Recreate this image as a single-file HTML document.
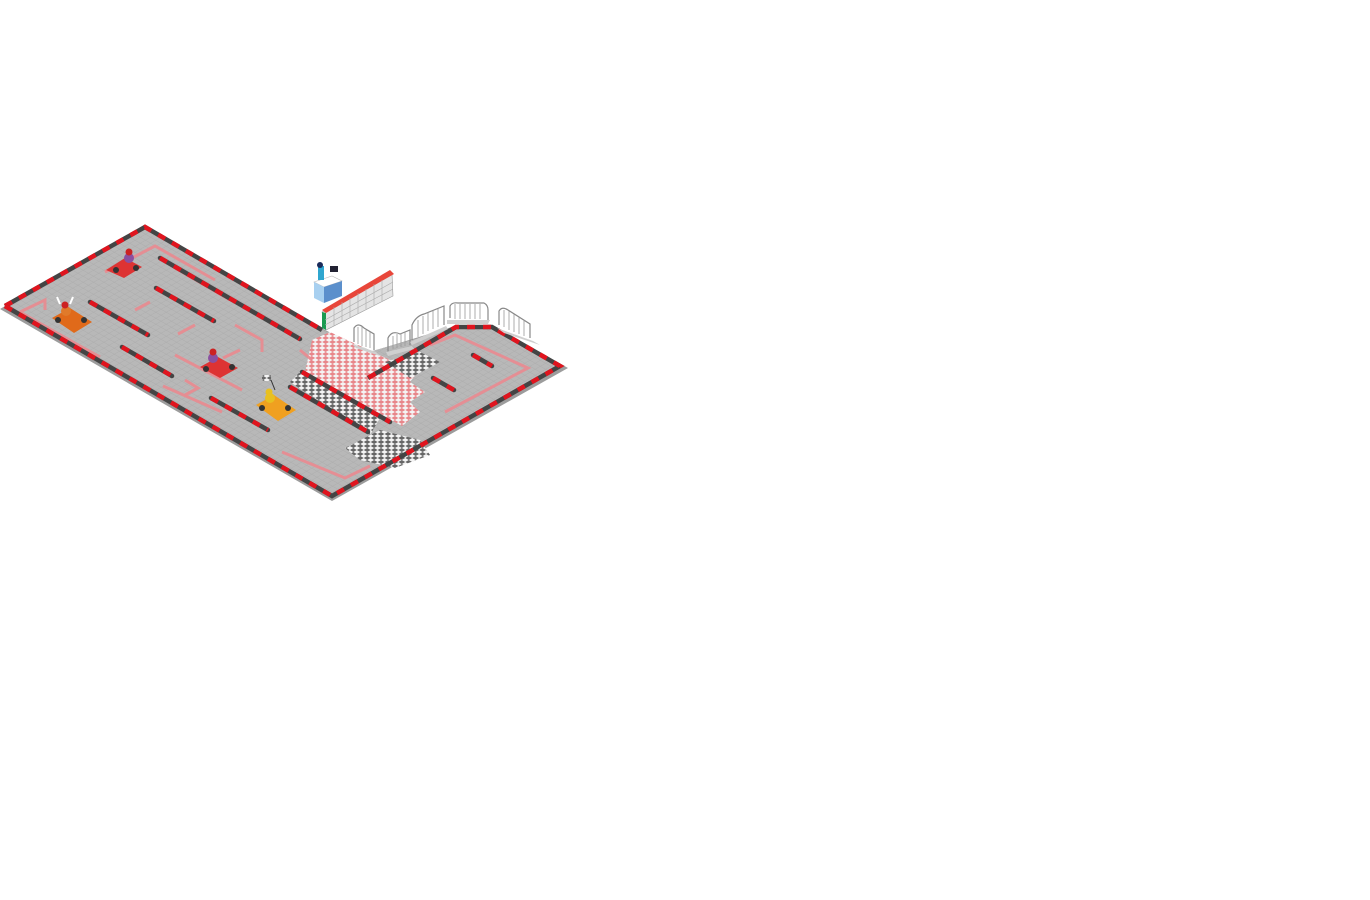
<!DOCTYPE html>
<html><head><meta charset="utf-8"><style>html,body{margin:0;padding:0;background:#fff;width:1370px;height:900px;overflow:hidden}</style></head>
<body>
<svg width="1370" height="900" viewBox="0 0 1370 900" xmlns="http://www.w3.org/2000/svg">
<defs>
<pattern id="grid" width="6" height="6" patternUnits="userSpaceOnUse" patternTransform="matrix(0.866 0.5 -0.866 0.5 0 0)"><rect width="6" height="6" fill="#b8b8b8"/><path d="M0 0H6M0 0V6" stroke="#a8a8a8" stroke-width="0.7"/></pattern>
<pattern id="pk" width="8" height="8" patternUnits="userSpaceOnUse" patternTransform="matrix(0.866 0.5 -0.866 0.5 0 0)"><rect width="8" height="8" fill="#f4f4f4"/><rect width="4" height="4" fill="#e8868a"/><rect x="4" y="4" width="4" height="4" fill="#e8868a"/></pattern>
<pattern id="gk" width="8" height="8" patternUnits="userSpaceOnUse" patternTransform="matrix(0.866 0.5 -0.866 0.5 0 0)"><rect width="8" height="8" fill="#f4f4f4"/><rect width="4" height="4" fill="#666"/><rect x="4" y="4" width="4" height="4" fill="#666"/></pattern>
</defs>
<polygon points="0,309 145,225 325,330 370,352 455,326 493,326 568,368 332,501" fill="#9c9c9c"/>
<polygon points="4,306 145,227 325,331 372,351 455,328 492,328 562,366 332,496" fill="url(#grid)"/>
<polygon points="312,340 330,332 390,360 418,372 410,382 425,392 410,402 420,412 402,426 340,392 305,372" fill="url(#pk)"/>
<polygon points="290,382 300,372 380,418 370,435" fill="url(#gk)"/>
<polygon points="385,362 420,352 440,362 410,378" fill="url(#gk)"/>
<polygon points="345,448 380,430 420,440 430,455 395,468 360,460" fill="url(#gk)"/>
<g stroke="#ea8a90" stroke-width="3" fill="none" opacity="0.9">
<polyline points="105,272 155,246 215,280"/>
<polyline points="175,268 230,300"/>
<polyline points="45,310 45,300 20,312 80,346 100,357"/>
<polyline points="135,310 150,302"/>
<polyline points="178,334 195,325"/>
<polyline points="235,325 262,340 262,352"/>
<polyline points="175,355 242,390"/>
<polyline points="223,358 240,350"/>
<polyline points="163,386 222,412"/>
<polyline points="185,395 198,388 185,380"/>
<polyline points="282,452 345,478 370,466"/>
<polyline points="445,412 528,368 455,335 430,345"/>
<polyline points="300,350 312,360"/>
</g>
<g fill="none">
<polyline points="5,306 145,227 322,330" stroke="#444" stroke-width="4.5"/>
<polyline points="5,306 145,227 322,330" stroke="#e0141e" stroke-width="4.5" stroke-dasharray="8 8"/>
<polyline points="5,306 332,496 560,366 492,327 456,327 368,378" stroke="#444" stroke-width="4.5"/>
<polyline points="5,306 332,496 560,366 492,327 456,327 368,378" stroke="#e0141e" stroke-width="4.5" stroke-dasharray="8 8"/>
</g>
<g fill="none" stroke-width="4.5" stroke-linecap="round">
<g stroke="#444">
<line x1="160" y1="258" x2="300" y2="339"/><line x1="156" y1="288" x2="214" y2="321"/><line x1="90" y1="302" x2="148" y2="335"/><line x1="122" y1="347" x2="172" y2="376"/><line x1="211" y1="398" x2="268" y2="430"/><line x1="302" y1="372" x2="390" y2="422"/><line x1="290" y1="387" x2="368" y2="432"/><line x1="433" y1="378" x2="454" y2="390"/><line x1="473" y1="355" x2="492" y2="366"/>
</g>
<g stroke="#e0141e" stroke-dasharray="8 8" stroke-linecap="butt">
<line x1="160" y1="258" x2="300" y2="339"/><line x1="156" y1="288" x2="214" y2="321"/><line x1="90" y1="302" x2="148" y2="335"/><line x1="122" y1="347" x2="172" y2="376"/><line x1="211" y1="398" x2="268" y2="430"/><line x1="302" y1="372" x2="390" y2="422"/><line x1="290" y1="387" x2="368" y2="432"/><line x1="433" y1="378" x2="454" y2="390"/><line x1="473" y1="355" x2="492" y2="366"/>
</g></g>
<g>
<polygon points="106,270 125,258 142,267 124,278" fill="#d33"/><circle cx="116" cy="270" r="3" fill="#333"/><circle cx="136" cy="268" r="3" fill="#333"/><circle cx="129" cy="258" r="5" fill="#8a4fa0"/><circle cx="129" cy="252" r="3.5" fill="#c22"/>
<polygon points="52,318 70,308 92,322 74,333" fill="#e06a1a"/><circle cx="58" cy="320" r="3" fill="#333"/><circle cx="84" cy="320" r="3" fill="#333"/><circle cx="66" cy="311" r="5" fill="#e07a2a"/><circle cx="65" cy="305" r="3.5" fill="#c22"/><path d="M60 304 57 297M70 304 73 297" stroke="#fff" stroke-width="2"/>
<polygon points="200,367 218,357 238,368 220,378" fill="#d33"/><circle cx="206" cy="369" r="3" fill="#333"/><circle cx="232" cy="367" r="3" fill="#333"/><circle cx="213" cy="358" r="5" fill="#8a4fa0"/><circle cx="213" cy="352" r="3.5" fill="#c22"/>
<polygon points="256,405 274,395 296,410 278,421" fill="#f0a020"/><circle cx="262" cy="408" r="3" fill="#333"/><circle cx="288" cy="408" r="3" fill="#333"/><circle cx="270" cy="398" r="5" fill="#e8c020"/><circle cx="269" cy="392" r="3.5" fill="#e8c020"/>
<rect x="262" y="375" width="9" height="6" fill="url(#gk)"/><line x1="271" y1="380" x2="275" y2="390" stroke="#333"/>
</g>
<polygon points="314,282 332,276 342,281 324,287" fill="#fff" stroke="#bbb" stroke-width="0.6"/>
<polygon points="314,282 324,287 324,303 314,298" fill="#a8d0f0"/>
<polygon points="324,287 342,281 342,296 324,303" fill="#5b8fcc"/>
<rect x="318" y="266" width="6" height="14" fill="#2fa6cf"/><circle cx="320" cy="265" r="3" fill="#1a2b5a"/><rect x="330" y="266" width="8" height="6" fill="#223"/>
<polygon points="322,312 392,274 393,296 326,330" fill="#e4e4e4" stroke="#999" stroke-width="0.6"/>
<polygon points="322,310 390,270 394,274 326,313" fill="#e8463a"/>
<polygon points="322,312 326,313 326,330 322,328" fill="#1a9a50"/>
<g stroke="#aaa" stroke-width="0.6"><line x1="325" y1="320" x2="393" y2="282"/><line x1="325" y1="325" x2="393" y2="289"/>
<line x1="334" y1="307" x2="334" y2="326"/><line x1="342" y1="302" x2="342" y2="322"/><line x1="350" y1="298" x2="350" y2="318"/><line x1="358" y1="293" x2="358" y2="314"/><line x1="366" y1="289" x2="366" y2="309"/><line x1="374" y1="284" x2="374" y2="305"/><line x1="382" y1="280" x2="382" y2="301"/></g>
<g fill="none" stroke="#888" stroke-width="1.2">
<path d="M354 342 V328 Q358 322 364 328 L374 334 V350"/><path d="M388 352 V338 Q392 330 400 334 L410 330 V345"/>
<path d="M412 340 V325 Q416 316 424 314 L444 306 V325"/><path d="M450 318 V306 Q452 302 458 303 L484 303 Q488 305 488 310 V320"/>
<path d="M499 325 V311 Q502 306 508 310 L530 324 V338"/>
</g>
<g stroke="#999" stroke-width="0.8">
<path d="M358 327V344M362 326V346M366 330V347M370 332V348"/>
<path d="M393 336V349M397 334V348M401 333V347M405 332V346"/>
<path d="M418 320V337M423 316V334M428 313V331M433 311V329M438 309V327"/>
<path d="M455 304V319M460 304V319M465 304V319M470 304V319M475 304V319M480 304V319"/>
<path d="M504 310V327M509 311V330M514 314V332M519 317V334M524 320V336"/>
</g>
<g fill="#cfcfcf"><polygon points="352,344 376,352 380,356 356,348"/><polygon points="386,352 412,346 414,349 388,356"/><polygon points="410,342 446,326 448,329 412,345"/><polygon points="447,320 490,320 488,324 447,324"/><polygon points="497,328 533,341 540,345 504,333"/></g>
</svg>
</body></html>
